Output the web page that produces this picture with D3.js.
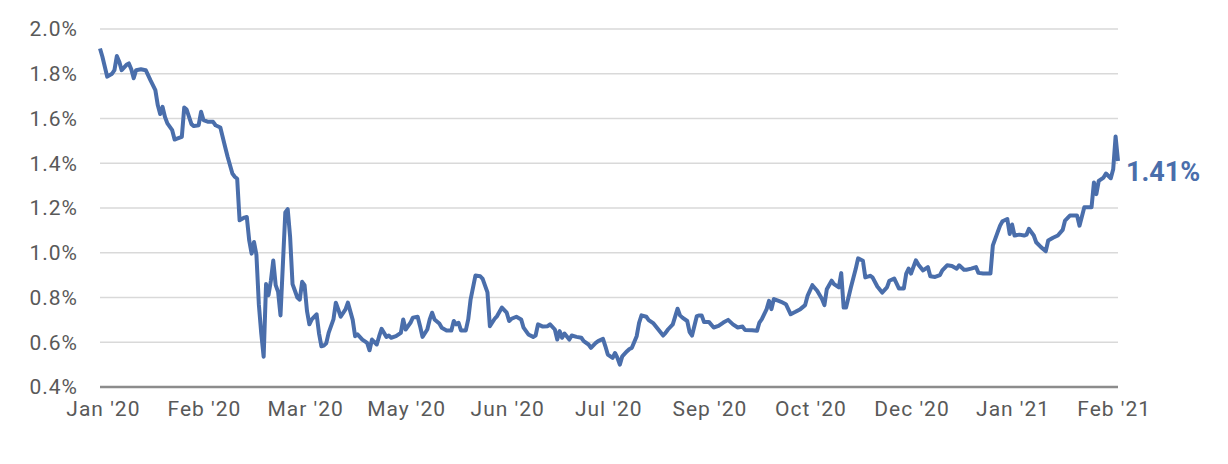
<!DOCTYPE html>
<html>
<head>
<meta charset="utf-8">
<script src="https://cdn.jsdelivr.net/npm/d3@7"></script>
<style>
  body { margin: 0; background: #fff; }
  svg { display: block; font-family: Roboto, "Noto Sans", sans-serif; }
</style>
</head>
<body>
<svg id="chart" width="1228" height="464"></svg>
<script>
// days counted from Jan 1 2020 (one point per calendar day on a category axis)
var days = [0,1,3,5,6,7,8,9,11,12,13,14,15,17,19,21,23,24,25,26,27,28,30,31,32,34,35,36,38,39,
  41,42,43,45,47,48,50,52,53,55,56,57,58,60,61,62,63,64,65,66,67,68,69,70,71,72,73,74,75,77,
  78,79,80,81,82,83,84,85,86,87,88,90,91,92,93,94,95,97,98,99,100,102,103,105,106,107,109,111,112,113,
  115,116,117,119,120,121,123,125,126,127,129,130,132,133,134,136,137,138,139,141,142,144,146,147,148,149,150,152,
  153,154,156,158,159,161,162,164,165,167,169,170,171,173,175,176,178,180,181,182,184,186,187,189,190,191,192,193,
  195,196,198,200,201,203,204,206,207,209,210,211,213,214,215,216,217,219,220,221,223,224,225,227,228,230,232,234,
  235,236,238,240,241,242,244,245,246,248,249,250,251,253,255,257,259,261,263,265,267,268,271,273,274,275,277,278,
  279,280,282,283,285,287,289,291,293,294,296,298,300,301,302,304,305,307,308,309,310,312,314,315,317,318,320,321,
  323,325,327,328,330,332,334,335,336,337,339,340,342,344,345,347,349,350,352,354,356,357,359,360,362,364,365,367,
  370,371,373,374,375,377,378,379,380,382,384,385,386,388,389,391,393,394,396,398,400,401,403,405,406,407,409,410,
  412,413,414,415,417,418,420,421,422,423];

var yields = [1.913,1.876,1.787,1.80,1.816,1.879,1.854,1.816,1.84,1.846,1.82,1.78,1.816,1.82,1.816,1.77,1.727,1.66,1.62,1.652,1.607,1.578,1.548,1.506,1.51,1.518,1.649,1.64,1.575,1.566,
  1.57,1.63,1.593,1.585,1.585,1.57,1.56,1.473,1.43,1.354,1.34,1.331,1.145,1.157,1.16,1.055,0.996,1.048,0.99,0.77,0.64,0.535,0.86,0.81,0.875,0.965,0.855,0.825,0.72,1.18,
  1.195,1.07,0.86,0.83,0.80,0.79,0.87,0.855,0.74,0.68,0.702,0.725,0.64,0.582,0.585,0.595,0.642,0.702,0.777,0.747,0.714,0.747,0.777,0.70,0.627,0.635,0.612,0.597,0.564,0.612,
  0.59,0.627,0.66,0.624,0.63,0.62,0.627,0.642,0.702,0.657,0.687,0.71,0.714,0.672,0.624,0.657,0.702,0.732,0.702,0.684,0.665,0.653,0.653,0.695,0.68,0.687,0.653,0.653,
  0.702,0.792,0.898,0.895,0.883,0.823,0.672,0.705,0.717,0.755,0.732,0.695,0.705,0.714,0.702,0.665,0.635,0.624,0.63,0.68,0.67,0.672,0.68,0.657,0.612,0.65,0.62,0.639,
  0.612,0.63,0.624,0.62,0.605,0.59,0.575,0.597,0.605,0.615,0.582,0.545,0.53,0.552,0.53,0.50,0.537,0.56,0.57,0.575,0.627,0.687,0.72,0.714,0.699,0.684,0.657,0.63,
  0.642,0.657,0.68,0.75,0.72,0.71,0.695,0.645,0.63,0.717,0.72,0.72,0.69,0.691,0.666,0.673,0.688,0.70,0.68,0.666,0.67,0.655,0.654,0.651,0.688,0.703,0.748,0.785,
  0.748,0.793,0.785,0.781,0.77,0.725,0.736,0.748,0.766,0.807,0.855,0.83,0.793,0.766,0.837,0.875,0.86,0.845,0.909,0.755,0.755,0.845,0.927,0.975,0.964,0.89,0.897,0.89,
  0.849,0.822,0.845,0.875,0.885,0.84,0.84,0.907,0.929,0.907,0.966,0.948,0.921,0.936,0.895,0.892,0.90,0.921,0.944,0.941,0.929,0.944,0.924,0.924,0.929,0.936,0.91,0.907,
  0.907,1.033,1.092,1.121,1.141,1.151,1.084,1.126,1.077,1.081,1.077,1.081,1.107,1.077,1.047,1.025,1.007,1.055,1.067,1.077,1.102,1.144,1.166,1.166,1.166,1.121,1.203,1.203,
  1.203,1.314,1.262,1.321,1.336,1.354,1.333,1.373,1.52,1.41];

var yTicks = [0.4, 0.6, 0.8, 1.0, 1.2, 1.4, 1.6, 1.8, 2.0];
var tickLabels = ["Jan '20","Feb '20","Mar '20","May '20","Jun '20","Jul '20","Sep '20","Oct '20","Dec '20","Jan '21","Feb '21"];
var tickDays = [1, 43, 85, 127, 169, 211, 253, 295, 337, 379, 421];
var endLabel = "1.41%";

var svg = d3.select("#chart");
var blue = "#4a6eab";
var textGray = "#595959";

var x = d3.scaleLinear().domain([0, 423]).range([100, 1118]);
var y = d3.scaleLinear().domain([0.4, 2.0]).range([387, 29]);

// gridlines
svg.append("g")
  .selectAll("line")
  .data(yTicks.slice(1))
  .enter().append("line")
    .attr("x1", 100)
    .attr("x2", 1118)
    .attr("y1", function(d) { return y(d); })
    .attr("y2", function(d) { return y(d); })
    .attr("stroke", "#d9d9d9")
    .attr("stroke-width", 1.5);

// y labels
svg.append("g")
  .selectAll("text")
  .data(yTicks)
  .enter().append("text")
    .attr("x", 78)
    .attr("y", function(d) { return y(d); })
    .attr("dy", "0.35em")
    .attr("text-anchor", "end")
    .attr("fill", textGray)
    .style("font-size", "21px")
    .style("letter-spacing", "1px")
    .text(function(d) { return d3.format(".1f")(d) + "%"; });

// baseline
svg.append("line")
  .attr("x1", 100)
  .attr("x2", 1118)
  .attr("y1", y(0.4))
  .attr("y2", y(0.4))
  .attr("stroke", "#8c8c8c")
  .attr("stroke-width", 2.5);

// x labels
svg.append("g")
  .selectAll("text")
  .data(tickLabels)
  .enter().append("text")
    .attr("x", function(d, i) { return x(tickDays[i]) + 1; })
    .attr("y", 416)
    .attr("text-anchor", "middle")
    .attr("fill", textGray)
    .style("font-size", "21px")
    .style("letter-spacing", "1px")
    .text(function(d) { return d; });

var line = d3.line()
  .x(function(d, i) { return x(days[i]); })
  .y(function(d) { return y(d); });

svg.append("path")
  .datum(yields)
  .attr("d", line)
  .attr("fill", "none")
  .attr("stroke", blue)
  .attr("stroke-width", 4)
  .attr("stroke-linejoin", "round");

var last = yields.length - 1;
svg.append("text")
  .attr("x", x(days[last]) + 8)
  .attr("y", y(yields[last]) + 11)
  .attr("dy", "0.35em")
  .attr("fill", blue)
  .style("font-size", "27px")
  .style("font-weight", "bold")
  .text(endLabel);
</script>
</body>
</html>
